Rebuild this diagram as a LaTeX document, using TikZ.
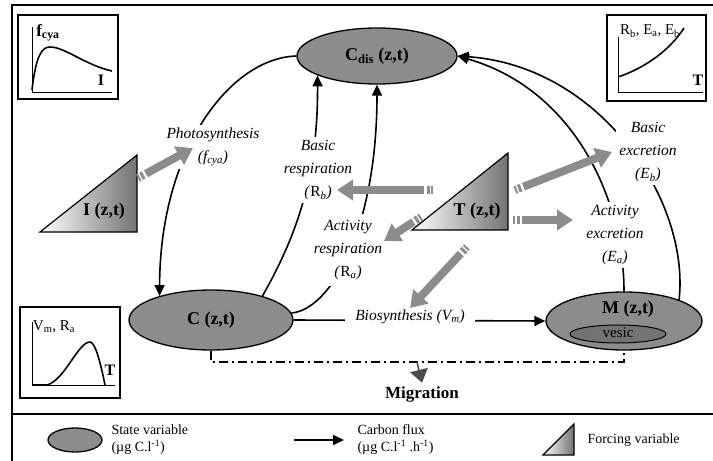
\documentclass[tikz,border=0pt]{standalone}
\usepackage{fontspec}
\setmainfont{Liberation Serif}
\usetikzlibrary{shapes.geometric,arrows.meta}
\begin{document}
\begin{tikzpicture}[x=1pt,y=-1pt,
  state/.style={ellipse, draw, line width=1.3pt, fill=black!45, inner sep=0pt, font=\fontsize{18}{20}\selectfont\bfseries},
  flux/.style={draw, line width=1.6pt, -{Triangle[length=11pt,width=10pt]}},
  lbl/.style={align=center, fill=white, inner sep=3pt, font=\fontsize{15.5}{23}\selectfont\itshape},
  force/.style={draw=black!45, line width=8pt, line cap=butt, -{Triangle[length=16pt,width=20pt]}, dash pattern=on 2pt off 1.5pt on 3pt off 2.5pt on 600pt off 1pt},
  forcing/.style={draw, line width=1.2pt, left color=white, right color=black!55},
  inset/.style={draw, line width=1.3pt},
  crv/.style={line width=1.6pt},
  axis/.style={line width=0.9pt},
  boldlbl/.style={font=\fontsize{18}{20}\selectfont\bfseries},
  legtxt/.style={align=left, anchor=west, font=\fontsize{14}{17}\selectfont},
  small/.style={font=\fontsize{15}{16}\selectfont},
  axlbl/.style={font=\fontsize{16}{17}\selectfont\bfseries},
  mig/.style={line width=2pt, dash pattern=on 9pt off 4pt on 2pt off 4pt},
]
\useasboundingbox (0,0) rectangle (713,461);
% frame
\draw[line width=1.4pt] (12,461) -- (12,5) -- (713,5);
\draw[line width=1.4pt] (12,414) -- (713,414);

% insets
\draw[inset] (18,15) rectangle (118,99);
\draw[axis] (32,27) -- (32,92) -- (112,92);
\draw[crv] (32,90) .. controls (36,55) and (42,47) .. (50,47) .. controls (65,47) and (85,65) .. (112,71);
\node[font=\fontsize{17}{18}\selectfont\bfseries] (fcy) at (48,33) {f\textsubscript{cya}};
\node[axlbl] (ilx) at (101,80) {I};

\draw[inset] (607,15) rectangle (706,101);
\draw[axis] (618,37) -- (618,92) -- (703,92);
\draw[crv] (618,77) .. controls (645,68) and (670,50) .. (684,28);
\node[small] (rea) at (650,31) {R\textsubscript{b}, E\textsubscript{a}, E\textsubscript{b}};
\node[axlbl] (tlx) at (698,80) {T};

\draw[inset] (20,307) rectangle (120,398);
\draw[axis] (32,322) -- (32,385) -- (115,385);
\draw[crv] (32,385) -- (47,385) .. controls (65,380) and (78,342) .. (90,342) .. controls (96,342) and (102,370) .. (105,385);
\node[small] (vmr) at (54,327) {V\textsubscript{m}, R\textsubscript{a}};
\node[axlbl] (tlx2) at (110,370) {T};

% state variables
\node[state, minimum width=160pt, minimum height=56pt] (cdis) at (377,56) {C\textsubscript{dis} (z,t)};
\node[state, minimum width=164pt, minimum height=60pt] (c) at (211,320) {C (z,t)};
\node[state, minimum width=156pt, minimum height=58pt] (m) at (624,321) {};
\node[boldlbl] (mlab) at (628,309) {M (z,t)};
\node[ellipse, draw, line width=1pt, fill=black!55, minimum width=96pt, minimum height=18pt, inner sep=0pt] (ves) at (618,334) {};
\node[font=\fontsize{15}{15}\selectfont] (vesl) at (618,333) {vesic};

% forcing variables
\draw[forcing] (40,232) -- (137,232) -- (137,155) -- cycle;
\node[boldlbl] (ilab) at (104,211) {I (z,t)};
\draw[forcing] (412,230) -- (508,230) -- (508,153) -- cycle;
\node[boldlbl] (tlab) at (477,211) {T (z,t)};

% carbon fluxes
\draw[flux] (cdis.west) .. controls (230,58) and (160,150) .. (c.155);
\draw[flux] (c.25) .. controls (300,230) and (318,170) .. (cdis.198);
\draw[flux] (c.5) .. controls (330,310) and (377,230) .. (cdis.south);
\draw[flux] (m.21) .. controls (690,200) and (600,66) .. (cdis.east);
\draw[flux] (m.north) .. controls (624,200) and (575,90) .. (cdis.east);
\draw[flux] (c.east) -- (m.west);

% migration
\coordinate (mg) at (417,362);
\draw[mig] (c.south) -- (c.south |- mg) -- (m.south |- mg) -- (m.south);
\node[font=\fontsize{17}{18}\selectfont\bfseries] (migl) at (422,394) {Migration};
\draw[draw=black!70, line width=1.5pt, -{Triangle[length=13pt,width=18pt]}] (mg) -- (migl.north);

% flux labels
\node[lbl] (ps) at (213,147) {Photosynthesis\\(\textit{f}\textsubscript{cya})};
\node[lbl] (rb) at (318,170) {Basic\\respiration\\(\textup{R}\textsubscript{b})};
\node[lbl, inner ysep=6pt] (ra) at (348,250) {Activity\\respiration\\(\textup{R}\textsubscript{a})};
\node[lbl] (eb) at (648,152) {Basic\\excretion\\(E\textsubscript{b})};
\node[lbl] (ea) at (615,235) {Activity\\excretion\\(E\textsubscript{a})};
\node[lbl, inner xsep=10pt] (vm) at (410,317) {Biosynthesis (V\textsubscript{m})};

% forcing influences
\coordinate (i1) at (138,178); \coordinate (i2) at (193,148);
\coordinate (t1a) at (433,190); \coordinate (t1b) at (337,190);
\coordinate (t2a) at (421,217); \coordinate (t2b) at (384,241);
\coordinate (t3a) at (515,190); \coordinate (t3b) at (612,152);
\coordinate (t4a) at (513,220); \coordinate (t4b) at (573,220);
\coordinate (t5a) at (467,247); \coordinate (t5b) at (410,308);
\draw[force] (i1) -- (i2);
\draw[force] (t1a) -- (t1b);
\draw[force] (t2a) -- (t2b);
\draw[force] (t3a) -- (t3b);
\draw[force] (t4a) -- (t4b);
\draw[force] (t5a) -- (t5b);

% legend
\node[state, minimum width=54pt, minimum height=24pt] (lgs) at (75,440) {};
\node[legtxt] (lgst) at (108,440) {State variable\\(µg C.l\textsuperscript{-1})};
\coordinate (la1) at (294,440); \coordinate (la2) at (344,440);
\draw[flux] (la1) -- (la2);
\node[legtxt] (lgft) at (354,440) {Carbon flux\\(µg C.l\textsuperscript{-1} .h\textsuperscript{-1})};
\draw[forcing] (543,455) -- (574,455) -- (574,424) -- cycle;
\node[legtxt] (lgtt) at (584,440) {Forcing variable};
\end{tikzpicture}
\end{document}
